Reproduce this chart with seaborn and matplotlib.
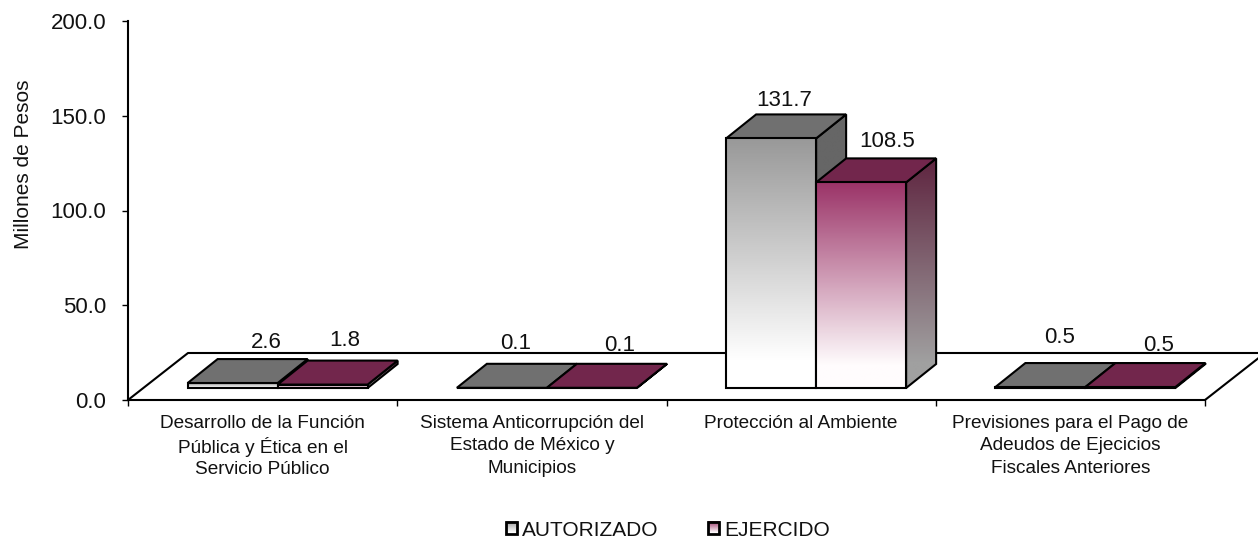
import numpy as np
import pandas as pd
import matplotlib
matplotlib.use("Agg")
import matplotlib.pyplot as plt
from matplotlib.colors import LinearSegmentedColormap
from matplotlib.patches import Patch, Polygon, Rectangle
import seaborn as sns

categories = [
    "Desarrollo de la Función\nPública y Ética en el\nServicio Público",
    "Sistema Anticorrupción del\nEstado de México y\nMunicipios",
    "Protección al Ambiente",
    "Previsiones para el Pago de\nAdeudos de Ejecicios\nFiscales Anteriores",
]
autorizado = [2.6, 0.1, 131.7, 0.5]
ejercido = [1.8, 0.1, 108.5, 0.5]
series_names = ["AUTORIZADO", "EJERCIDO"]
y_ticks = [0, 50, 100, 150, 200]

# label offsets from the top centre of each bar, in pixels
label_dx = [[34, 14, 13, 19], [22, 28, 26, 28]]
label_dy = [[41, 44, 38, 50], [44, 42, 41, 42]]
# accents make matplotlib's line height differ per label
cat_linespacing = [1.3, 1.4, 1.4, 1.4]

# top and bottom colours per series
front_cols = [("#999999", "#ffffff"), ("#9b3468", "#fffcfd")]
side_cols = [("#666666", "#666666"), ("#5f2540", "#a0a0a0")]
top_cols = ["#707070", "#72264c"]

PX_X = 1077 / 4  # pixels per category
PX_Y = 379 / 200  # pixels per unit
DEPTH_X, DEPTH_Y = 60 / PX_X, 47 / PX_Y  # floor depth
BAR_X, BAR_Y = 30 / PX_X, 24 / PX_Y  # bar depth
LW = 1.5
TEXT = "#111111"

df = pd.DataFrame({
    "Programa": categories * 2,
    "Serie": [series_names[0]] * 4 + [series_names[1]] * 4,
    "Valor": autorizado + ejercido,
})

sns.set_theme(style="ticks")
plt.rcParams["font.family"] = ["Liberation Sans", "DejaVu Sans"]

fig = plt.figure(figsize=(12.58, 5.37), dpi=100)
ax = fig.add_axes([128 / 1258, 137 / 537, 1077 / 1258, 379 / 537])

sns.barplot(
    data=df, x="Programa", y="Valor", hue="Serie", order=categories,
    hue_order=series_names, width=2 * 90 / PX_X, gap=0, legend=False,
    palette=["white", "white"], edgecolor="black",
    linewidth=LW, errorbar=None, bottom=BAR_Y / 2, ax=ax,
)


def gradient(cols, extent, clip, z, clip_on=True):
    cmap = LinearSegmentedColormap.from_list("g", cols)
    ramp = np.clip(np.linspace(0, 1.12, 128), 0, 1).reshape(-1, 1)
    im = ax.imshow(ramp, cmap=cmap, aspect="auto", extent=extent, origin="upper",
                   zorder=z, interpolation="bilinear", clip_on=clip_on)
    if clip is not None:
        im.set_clip_path(clip)


# Floor
x0, x1 = -0.5, 3.5
ax.plot([x0, x0 + DEPTH_X, x1 + DEPTH_X, x1], [0, DEPTH_Y, DEPTH_Y, 0],
        color="black", lw=LW, clip_on=False, zorder=2)

# 3D faces built from the bars seaborn drew
for s, cont in enumerate(ax.containers):
    for i, bar in enumerate(cont):
        bar.set_x(bar.get_x() + BAR_X / 2)
        x, y, w, h = bar.get_x(), bar.get_y(), bar.get_width(), bar.get_height()
        z = 3 + s * 5
        corners = [(x + w, y), (x + w + BAR_X, y + BAR_Y), (x + w + BAR_X, y + h + BAR_Y), (x + w, y + h)]
        side = Polygon(corners, closed=True, fc="none", ec="black", lw=LW, zorder=z + 1, clip_on=False)
        ax.add_patch(side)
        gradient(side_cols[s], [x + w, x + w + BAR_X, y, y + h + BAR_Y], side, z)
        top = Polygon([(x, y + h), (x + BAR_X, y + h + BAR_Y), (x + w + BAR_X, y + h + BAR_Y), (x + w, y + h)],
                      closed=True, fc=top_cols[s], ec="black", lw=LW, zorder=z + 2, clip_on=False)
        ax.add_patch(top)
        bar.set_zorder(z + 4)
        bar.set_facecolor("none")
        clip = Rectangle((x, y), w, h, transform=ax.transData)
        gradient(front_cols[s], [x, x + w, y, y + h], clip, z + 3)
        ax.annotate(f"{bar.get_height():.1f}", (x + w / 2, y + h),
                    xytext=(label_dx[s][i] * 0.72, label_dy[s][i] * 0.72),
                    textcoords="offset points", ha="center", va="center",
                    fontsize=16, color=TEXT, zorder=20)

ax.set_xlim(x0, x1)
ax.set_ylim(0, 200)
sns.despine(ax=ax)
ax.patch.set_alpha(0)
for sp in ax.spines.values():
    sp.set_linewidth(LW)
    sp.set_color("black")
    sp.set_zorder(2)

ax.set_yticks(y_ticks, [f"{v:.1f}" for v in y_ticks], fontsize=16, color=TEXT)
ax.set_xticks(np.arange(x0, x1 + 1))
ax.set_xticklabels([])
ax.set_xticks(np.arange(4), categories, minor=True, fontsize=13.7, color=TEXT)
for t, ls in zip(ax.get_xticklabels(minor=True), cat_linespacing):
    t.set_linespacing(ls)
ax.tick_params(axis="both", which="major", length=4.5, width=1, color="black")
ax.tick_params(axis="y", pad=11)
ax.tick_params(axis="x", which="minor", length=0, pad=11)
ax.set_xlabel("")
ax.set_ylabel("Millones de Pesos", fontsize=15, color=TEXT)
ax.yaxis.set_label_coords(33 / 1258, 373 / 537, transform=fig.transFigure)

# Legend
handles = [Patch(fc=front_cols[k][0], ec="black", lw=2, label=series_names[k]) for k in range(2)]
leg = fig.legend(handles=handles, ncol=2, frameon=False, fontsize=15, loc="center",
                 bbox_to_anchor=(668 / 1258, 1 - 530 / 537), handlelength=0.55, handleheight=0.55,
                 handletextpad=0.25, columnspacing=2.35, labelcolor=TEXT)

fig.canvas.draw()
inv = ax.transData.inverted()
for k, h in enumerate(leg.get_patches()):
    (a, b), (c, d) = inv.transform(h.get_window_extent().get_points())
    gradient(front_cols[k], [a, c, b, d], None, 21, clip_on=False)
    h.set_facecolor("none")
ax.set_xlim(x0, x1)
ax.set_ylim(0, 200)

fig.savefig("out.png", dpi=100)
